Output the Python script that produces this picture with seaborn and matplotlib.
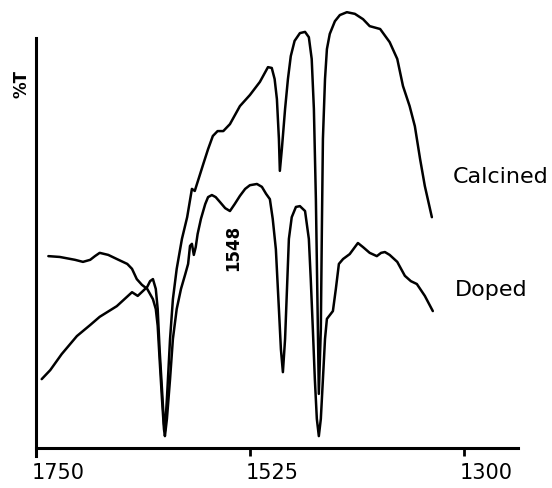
import matplotlib
matplotlib.use("Agg")
import matplotlib.pyplot as plt
import matplotlib.transforms as mtransforms
import seaborn as sns
import pandas as pd

# ---- data (wavenumber in cm-1, transmittance in arbitrary %T units) ----
calcined_wn = [1744, 1735, 1723, 1707, 1693, 1683, 1665, 1649, 1643, 1637.5, 1633, 1630, 1627,
               1624, 1622, 1620, 1617.5, 1615.4, 1614.4, 1612.3, 1609, 1606, 1602, 1596.5, 1591,
               1586, 1583, 1580, 1574, 1569, 1564, 1559, 1553, 1546, 1535.5, 1525, 1514.5, 1506,
               1502, 1499, 1496.6, 1494.5, 1493.5, 1491.4, 1488, 1485, 1482, 1478, 1472.4, 1467,
               1463, 1460, 1457.7, 1455.6, 1453.5, 1452.5, 1450.4, 1449.3, 1448.2, 1446, 1444,
               1441, 1435.6, 1430.4, 1423, 1414.6, 1406, 1399, 1388, 1378, 1370, 1364, 1357,
               1351.5, 1346, 1341, 1333.6]
calcined_t = [16.8, 19.0, 22.9, 27.3, 30.0, 32.0, 34.6, 38.0, 37.1, 38.3, 39.3, 40.7, 41.2,
              38.8, 33.9, 24.1, 14.4, 5.9, 4.1, 12.0, 26.6, 36.3, 43.7, 51.0, 56.3,
              63.2, 62.7, 64.9, 69.3, 72.9, 76.1, 77.3, 77.3, 79.0, 83.4, 86.1, 89.3, 92.9,
              92.7, 90.0, 85.1, 75.4, 67.6, 72.9, 82.7, 90.0, 95.6, 99.3, 101.2, 101.5,
              100.2, 94.9, 82.7, 60.7, 29.0, 13.2, 29.0, 53.4, 75.4, 90.0, 97.3,
              101.0, 104.1, 105.6, 106.3, 105.9, 104.6, 102.9, 102.2, 99.0, 94.9, 88.3, 83.4,
              78.5, 70.5, 63.9, 56.3]

doped_wn = [1737, 1725, 1709, 1700.6, 1693, 1688, 1683, 1674, 1665, 1654, 1649, 1644, 1638.6,
            1633, 1627, 1624, 1622, 1620, 1617.5, 1615.4, 1614.4, 1612.3, 1609, 1606, 1602,
            1597.5, 1593, 1590, 1588, 1586, 1584, 1582, 1580, 1576.5, 1572, 1569, 1565, 1561,
            1556.5, 1551, 1546, 1541, 1535.5, 1530, 1525, 1517.6, 1512.4, 1508, 1504, 1501,
            1497.7, 1494.5, 1492.4, 1490.3, 1488, 1486, 1484, 1481, 1476.6, 1472.4, 1467,
            1463, 1461, 1458.8, 1456.7, 1454.6, 1452.5, 1450.4, 1448.2, 1446, 1444, 1441,
            1437.7, 1434.6, 1431.4, 1427, 1420, 1414.6, 1411.4, 1406, 1399, 1391.5, 1387,
            1383, 1378, 1370, 1362, 1355.7, 1349.4, 1341, 1332.6]
doped_t = [46.8, 46.6, 45.9, 45.4, 45.9, 46.8, 47.6, 47.1, 46.1, 44.9, 43.7, 41.2, 39.8,
           38.8, 36.3, 33.9, 29.8, 21.7, 12.0, 4.6, 2.9, 7.1, 16.8, 26.6, 33.9,
           38.8, 42.4, 44.9, 49.3, 49.8, 47.1, 49.0, 52.2, 55.9, 59.5, 61.2, 61.7, 61.2,
           60.0, 58.5, 57.8, 59.5, 61.5, 63.2, 64.1, 64.4, 63.7, 62.0, 60.7, 55.9,
           48.5, 33.9, 24.1, 18.5, 26.6, 38.8, 51.0, 56.3, 58.8, 59.0, 57.8,
           51.0, 41.2, 29.0, 16.8, 7.1, 2.9, 7.1, 16.8, 26.6, 31.5, 32.4,
           33.4, 38.8, 44.9, 46.1, 47.3, 49.0, 50.0, 49.0, 47.6, 46.8, 47.6,
           47.8, 47.1, 45.4, 42.0, 40.7, 40.0, 37.1, 33.4]

x_ticks = [1750, 1525, 1300]
x_ticklabels = ["1750", "1525", "1300"]
series_names = ["Calcined", "Doped"]
annotation = "1548"

df = pd.concat([
    pd.DataFrame({"wn": calcined_wn, "T": calcined_t, "sample": series_names[0]}),
    pd.DataFrame({"wn": doped_wn, "T": doped_t, "sample": series_names[1]}),
])

sns.set_style("white")
plt.rcParams["font.family"] = ["DejaVu Sans"]
plt.rcParams["text.color"] = "black"
plt.rcParams["xtick.color"] = "black"
plt.rcParams["xtick.labelcolor"] = "black"

fig = plt.figure(figsize=(5.52, 4.89), dpi=100)
ax = fig.add_axes([36 / 552, 40 / 489, 482 / 552, 444 / 489])

sns.lineplot(data=df, x="wn", y="T", units="sample", estimator=None, sort=False,
             color="black", linewidth=1.8, ax=ax, legend=False)

ax.set_xlim(1750, 1243)
ax.set_ylim(0, 108.3)
ax.set_xlabel("")
ax.set_ylabel("")
ax.set_yticks([])
ax.set_xticks(x_ticks)
ax.set_xticklabels(x_ticklabels, fontsize=15, color="black")
ax.tick_params(axis="x", direction="out", length=6, width=2, pad=4, colors="black",
               bottom=True)
offset = mtransforms.ScaledTranslation(-4 / 100, 0, fig.dpi_scale_trans)
for lab in ax.get_xticklabels():
    lab.set_horizontalalignment("left")
    lab.set_transform(lab.get_transform() + offset)

for side in ["top", "right"]:
    ax.spines[side].set_visible(False)
for side in ["left", "bottom"]:
    ax.spines[side].set_visible(True)
    ax.spines[side].set_color("black")
    ax.spines[side].set_linewidth(2.2)
ax.spines["left"].set_bounds(-2, 100)

ax.text(1311.6, 66.3, series_names[0], fontsize=16, ha="left", va="center", color="black")
ax.text(1309.5, 38.8, series_names[1], fontsize=16, ha="left", va="center", color="black")
ax.text(1543, 49.0, annotation, fontsize=12, rotation=90, ha="center", va="center",
        fontweight="bold", color="black")
fig.text(22 / 552, 1 - 84 / 489, "%T", fontsize=12, rotation=90, ha="center",
         va="center", fontweight="bold", color="black")

fig.savefig("out.png", dpi=100)
